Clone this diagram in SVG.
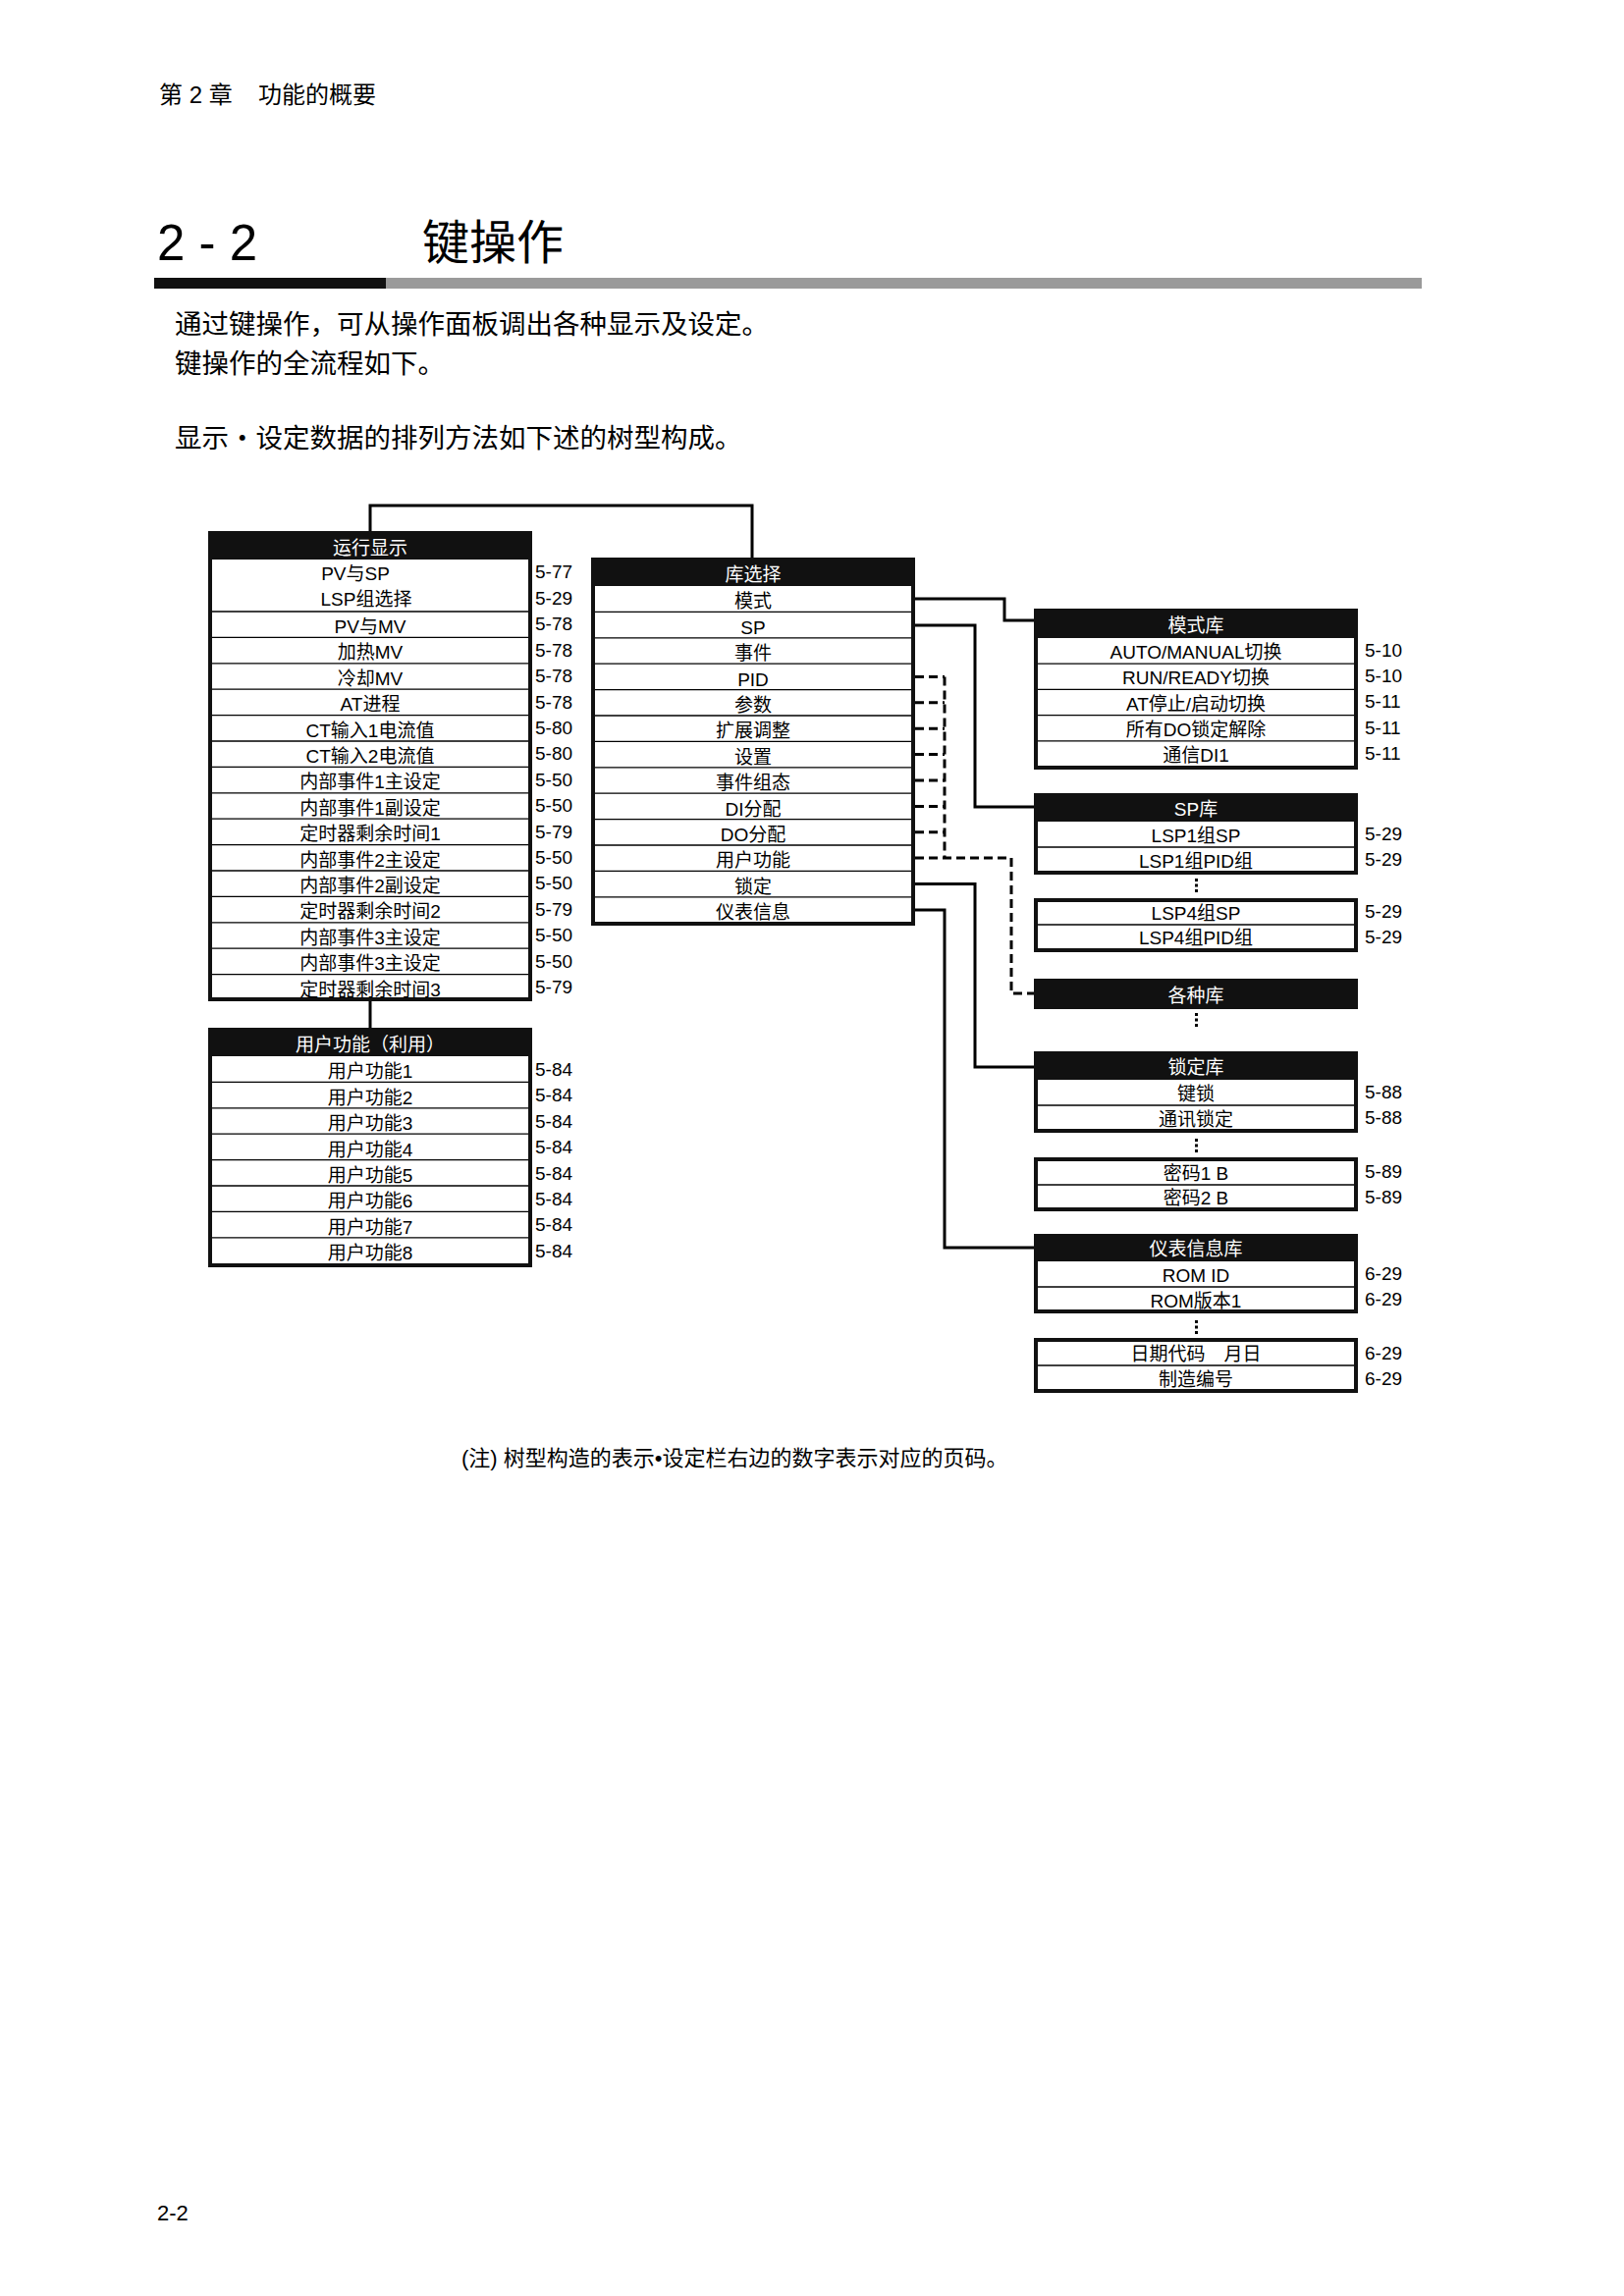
<svg xmlns="http://www.w3.org/2000/svg" width="1654" height="2339" viewBox="0 0 1654 2339">
<style>
text{font-family:"Liberation Sans","Noto Sans CJK SC",sans-serif;fill:#000}
.t{font-size:19px;text-anchor:middle;transform:translateY(-1px)}
.h{fill:#fff}
.pn{font-size:19px;text-anchor:start;transform:translateY(-1px)}
.box{fill:#111}
.in{fill:#fff}
.rl{stroke:#000;stroke-width:1.3}
.c{fill:none;stroke:#000;stroke-width:3}
.d{stroke-dasharray:9 5}
.dot{fill:#000}
.body{font-size:27.5px}
</style>
<rect width="1654" height="2339" fill="#fff"/>

<g id="page-header">
<text x="162" y="105" style="font-size:24px">第 2 章</text>
<text x="263" y="105" style="font-size:24px">功能的概要</text>
<text x="160" y="265" style="font-size:51px">2 - 2</text>
<text x="430" y="264" style="font-size:48px">键操作</text>
<rect x="157" y="283" width="236" height="11" fill="#111"/>
<rect x="393" y="283" width="1055" height="11" fill="#9a9a9a"/>
<text class="body" x="178" y="340">通过键操作，可从操作面板调出各种显示及设定。</text>
<text class="body" x="178" y="380">键操作的全流程如下。</text>
<text class="body" x="178" y="456">显示・设定数据的排列方法如下述的树型构成。</text>
</g>

<g id="connectors">
<path class="c" d="M377,541 V515 H766 V568"/>
<path class="c" d="M377,1020 V1047"/>
<path class="c" d="M932,610 H1023 V632 H1053"/>
<path class="c" d="M932,637 H993 V822 H1053"/>
<path class="c" d="M932,900.6 H993 V1087 H1053"/>
<path class="c" d="M932,927 H962 V1271 H1053"/>
<path class="c d" d="M932,874 H1030 V1012 H1053"/>
<path class="c d" d="M962,689.4 V874"/>
<path class="c d" d="M932,689.4 H962 M932,715.8 H962 M932,742.2 H962 M932,768.6 H962 M932,795 H962 M932,821.4 H962 M932,847.8 H962"/>
</g>

<g id="node-run-display">
<rect class="box" x="212" y="541" width="330" height="479"/>
<rect class="in" x="216" y="570" width="322" height="446"/>
<path class="rl" d="M216,623H538 M216,649.4H538 M216,675.8H538 M216,702.2H538 M216,728.6H538 M216,755H538 M216,781.4H538 M216,807.8H538 M216,834.2H538 M216,860.6H538 M216,887H538 M216,913.4H538 M216,939.8H538 M216,966.2H538 M216,992.6H538"/>
<text class="t h" x="377" y="566">运行显示</text>
<text class="t" x="362" y="592">PV与SP</text>
<text class="t" x="373" y="618">LSP组选择</text>
<text class="t" x="377" y="646">PV与MV</text>
<text class="t" x="377" y="672.4">加热MV</text>
<text class="t" x="377" y="698.8">冷却MV</text>
<text class="t" x="377" y="725.2">AT进程</text>
<text class="t" x="377" y="751.6">CT输入1电流值</text>
<text class="t" x="377" y="778">CT输入2电流值</text>
<text class="t" x="377" y="804.4">内部事件1主设定</text>
<text class="t" x="377" y="830.8">内部事件1副设定</text>
<text class="t" x="377" y="857.2">定时器剩余时间1</text>
<text class="t" x="377" y="883.6">内部事件2主设定</text>
<text class="t" x="377" y="910">内部事件2副设定</text>
<text class="t" x="377" y="936.4">定时器剩余时间2</text>
<text class="t" x="377" y="962.8">内部事件3主设定</text>
<text class="t" x="377" y="989.2">内部事件3主设定</text>
<text class="t" x="377" y="1015.6">定时器剩余时间3</text>
<text class="pn" x="545" y="590">5-77</text>
<text class="pn" x="545" y="617">5-29</text>
<text class="pn" x="545" y="643.4">5-78</text>
<text class="pn" x="545" y="669.8">5-78</text>
<text class="pn" x="545" y="696.2">5-78</text>
<text class="pn" x="545" y="722.6">5-78</text>
<text class="pn" x="545" y="749">5-80</text>
<text class="pn" x="545" y="775.4">5-80</text>
<text class="pn" x="545" y="801.8">5-50</text>
<text class="pn" x="545" y="828.2">5-50</text>
<text class="pn" x="545" y="854.6">5-79</text>
<text class="pn" x="545" y="881">5-50</text>
<text class="pn" x="545" y="907.4">5-50</text>
<text class="pn" x="545" y="933.8">5-79</text>
<text class="pn" x="545" y="960.2">5-50</text>
<text class="pn" x="545" y="986.6">5-50</text>
<text class="pn" x="545" y="1013">5-79</text>
</g>

<g id="node-user-function">
<rect class="box" x="212" y="1047" width="330" height="244"/>
<rect class="in" x="216" y="1076" width="322" height="211"/>
<path class="rl" d="M216,1102.4H538 M216,1128.8H538 M216,1155.2H538 M216,1181.6H538 M216,1208H538 M216,1234.4H538 M216,1260.8H538"/>
<text class="t h" x="377" y="1072">用户功能（利用）</text>
<text class="t" x="377" y="1099.4">用户功能1</text>
<text class="t" x="377" y="1125.8">用户功能2</text>
<text class="t" x="377" y="1152.2">用户功能3</text>
<text class="t" x="377" y="1178.6">用户功能4</text>
<text class="t" x="377" y="1205">用户功能5</text>
<text class="t" x="377" y="1231.4">用户功能6</text>
<text class="t" x="377" y="1257.8">用户功能7</text>
<text class="t" x="377" y="1284.2">用户功能8</text>
<text class="pn" x="545" y="1097">5-84</text>
<text class="pn" x="545" y="1123.4">5-84</text>
<text class="pn" x="545" y="1149.8">5-84</text>
<text class="pn" x="545" y="1176.2">5-84</text>
<text class="pn" x="545" y="1202.6">5-84</text>
<text class="pn" x="545" y="1229">5-84</text>
<text class="pn" x="545" y="1255.4">5-84</text>
<text class="pn" x="545" y="1281.8">5-84</text>
</g>

<g id="node-bank-select">
<rect class="box" x="602" y="568" width="330" height="375"/>
<rect class="in" x="606" y="597" width="322" height="342"/>
<path class="rl" d="M606,623.4H928 M606,649.8H928 M606,676.2H928 M606,702.6H928 M606,729H928 M606,755.4H928 M606,781.8H928 M606,808.2H928 M606,834.6H928 M606,861H928 M606,887.4H928 M606,913.8H928"/>
<text class="t h" x="767" y="593">库选择</text>
<text class="t" x="767" y="620.4">模式</text>
<text class="t" x="767" y="646.8">SP</text>
<text class="t" x="767" y="673.2">事件</text>
<text class="t" x="767" y="699.6">PID</text>
<text class="t" x="767" y="726">参数</text>
<text class="t" x="767" y="752.4">扩展调整</text>
<text class="t" x="767" y="778.8">设置</text>
<text class="t" x="767" y="805.2">事件组态</text>
<text class="t" x="767" y="831.6">DI分配</text>
<text class="t" x="767" y="858">DO分配</text>
<text class="t" x="767" y="884.4">用户功能</text>
<text class="t" x="767" y="910.8">锁定</text>
<text class="t" x="767" y="937.2">仪表信息</text>
</g>

<g id="node-mode-bank">
<rect class="box" x="1053" y="620" width="330" height="164"/>
<rect class="in" x="1057" y="650" width="322" height="130"/>
<path class="rl" d="M1057,676.2H1379 M1057,702.4H1379 M1057,728.6H1379 M1057,754.8H1379"/>
<text class="t h" x="1218" y="645">模式库</text>
<text class="t" x="1218" y="672.2">AUTO/MANUAL切换</text>
<text class="t" x="1218" y="698.4">RUN/READY切换</text>
<text class="t" x="1218" y="724.6">AT停止/启动切换</text>
<text class="t" x="1218" y="750.8">所有DO锁定解除</text>
<text class="t" x="1218" y="777">通信DI1</text>
<text class="pn" x="1390" y="670">5-10</text>
<text class="pn" x="1390" y="696.2">5-10</text>
<text class="pn" x="1390" y="722.4">5-11</text>
<text class="pn" x="1390" y="748.6">5-11</text>
<text class="pn" x="1390" y="774.8">5-11</text>
</g>

<g id="node-sp-bank">
<rect class="box" x="1053" y="808" width="330" height="83"/>
<rect class="in" x="1057" y="837" width="322" height="50"/>
<path class="rl" d="M1057,863H1379"/>
<text class="t h" x="1218" y="832">SP库</text>
<text class="t" x="1218" y="859">LSP1组SP</text>
<text class="t" x="1218" y="885">LSP1组PID组</text>
<text class="pn" x="1390" y="857">5-29</text>
<text class="pn" x="1390" y="883">5-29</text>
<rect class="dot" x="1217" y="895" width="3" height="3"/>
<rect class="dot" x="1217" y="900.5" width="3" height="3"/>
<rect class="dot" x="1217" y="906" width="3" height="3"/>
<rect class="box" x="1053" y="915" width="330" height="55"/>
<rect class="in" x="1057" y="919" width="322" height="47"/>
<path class="rl" d="M1057,942H1379"/>
<text class="t" x="1218" y="938">LSP4组SP</text>
<text class="t" x="1218" y="963">LSP4组PID组</text>
<text class="pn" x="1390" y="936">5-29</text>
<text class="pn" x="1390" y="962">5-29</text>
</g>

<g id="node-various-banks">
<rect class="box" x="1053" y="997" width="330" height="31"/>
<text class="t h" x="1218" y="1022">各种库</text>
<rect class="dot" x="1217" y="1032" width="3" height="3"/>
<rect class="dot" x="1217" y="1037.5" width="3" height="3"/>
<rect class="dot" x="1217" y="1043" width="3" height="3"/>
</g>

<g id="node-lock-bank">
<rect class="box" x="1053" y="1071" width="330" height="83"/>
<rect class="in" x="1057" y="1100" width="322" height="50"/>
<path class="rl" d="M1057,1126H1379"/>
<text class="t h" x="1218" y="1095">锁定库</text>
<text class="t" x="1218" y="1122">键锁</text>
<text class="t" x="1218" y="1148">通讯锁定</text>
<text class="pn" x="1390" y="1120">5-88</text>
<text class="pn" x="1390" y="1146">5-88</text>
<rect class="dot" x="1217" y="1160" width="3" height="3"/>
<rect class="dot" x="1217" y="1165.5" width="3" height="3"/>
<rect class="dot" x="1217" y="1171" width="3" height="3"/>
<rect class="box" x="1053" y="1179" width="330" height="55"/>
<rect class="in" x="1057" y="1183" width="322" height="47"/>
<path class="rl" d="M1057,1207H1379"/>
<text class="t" x="1218" y="1203">密码1 B</text>
<text class="t" x="1218" y="1228">密码2 B</text>
<text class="pn" x="1390" y="1201">5-89</text>
<text class="pn" x="1390" y="1227">5-89</text>
</g>

<g id="node-info-bank">
<rect class="box" x="1053" y="1257" width="330" height="81"/>
<rect class="in" x="1057" y="1285" width="322" height="49"/>
<path class="rl" d="M1057,1311H1379"/>
<text class="t h" x="1218" y="1280">仪表信息库</text>
<text class="t" x="1218" y="1307">ROM ID</text>
<text class="t" x="1218" y="1333">ROM版本1</text>
<text class="pn" x="1390" y="1305">6-29</text>
<text class="pn" x="1390" y="1331">6-29</text>
<rect class="dot" x="1217" y="1345" width="3" height="3"/>
<rect class="dot" x="1217" y="1350.5" width="3" height="3"/>
<rect class="dot" x="1217" y="1356" width="3" height="3"/>
<rect class="box" x="1053" y="1363" width="330" height="56"/>
<rect class="in" x="1057" y="1367" width="322" height="48"/>
<path class="rl" d="M1057,1391H1379"/>
<text class="t" x="1218" y="1387">日期代码　月日</text>
<text class="t" x="1218" y="1413">制造编号</text>
<text class="pn" x="1390" y="1386">6-29</text>
<text class="pn" x="1390" y="1412">6-29</text>
</g>

<g id="notes">
<text x="470" y="1501" style="font-size:22px;transform:translateY(-8px)">(注) 树型构造的表示•设定栏右边的数字表示对应的页码。</text>
<text x="160" y="2262" style="font-size:22px">2-2</text>
</g>
</svg>
